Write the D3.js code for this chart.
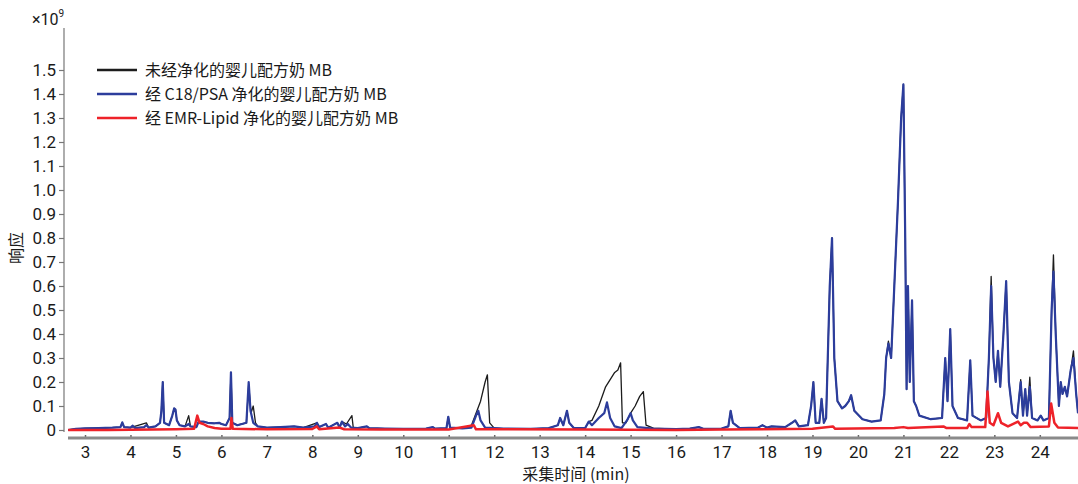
<!DOCTYPE html>
<html>
<head>
<meta charset="utf-8">
<script src="https://cdn.jsdelivr.net/npm/d3@7"></script>
<style>
  body { margin: 0; background: #fff; }
  svg text { font-family: "Liberation Sans Narrow", "Roboto", "Noto Sans CJK SC", sans-serif; fill: #1a1a1a; }
  .cjk { font-family: "Liberation Sans Narrow", "Noto Sans CJK SC", sans-serif; }
</style>
</head>
<body>
<svg id="chart" width="1078" height="484"></svg>
<script>
// chromatogram traces, [time (min), response (x10^9)]
const rawSeries = [
  [2.63,0.0],[2.8,0.005],[3.0,0.007],[3.3,0.008],[3.6,0.01],[3.78,0.012],[3.82,0.03],[3.86,0.012],
  [4.0,0.01],[4.35,0.03],[4.4,0.01],[4.55,0.015],[4.65,0.03],[4.68,0.08],[4.71,0.2],[4.74,0.03],
  [4.85,0.02],[4.92,0.06],[4.96,0.09],[4.99,0.085],[5.02,0.04],[5.08,0.02],[5.2,0.015],[5.28,0.06],
  [5.32,0.015],[5.45,0.012],[5.5,0.035],[5.6,0.035],[5.7,0.03],[5.85,0.028],[5.95,0.03],[6.0,0.025],
  [6.1,0.02],[6.18,0.05],[6.21,0.24],[6.24,0.03],[6.35,0.02],[6.45,0.025],[6.55,0.03],[6.6,0.19],
  [6.65,0.07],[6.7,0.1],[6.75,0.03],[6.8,0.015],[7.0,0.01],[7.3,0.012],[7.6,0.015],[7.8,0.01],
  [8.1,0.03],[8.15,0.012],[8.3,0.025],[8.35,0.01],[8.55,0.03],[8.6,0.01],[8.65,0.035],[8.75,0.025],
  [8.87,0.06],[8.9,0.01],[9.0,0.008],[9.2,0.015],[9.25,0.008],[9.6,0.006],[10.0,0.005],[10.5,0.006],
  [10.65,0.012],[10.7,0.006],[10.95,0.008],[10.99,0.055],[11.03,0.01],[11.3,0.007],[11.5,0.02],
  [11.6,0.07],[11.7,0.12],[11.8,0.2],[11.85,0.23],[11.9,0.03],[12.0,0.008],[12.2,0.006],[12.8,0.005],
  [13.2,0.008],[13.4,0.02],[13.45,0.05],[13.52,0.02],[13.6,0.08],[13.65,0.03],[13.75,0.008],
  [14.0,0.008],[14.08,0.035],[14.15,0.04],[14.3,0.1],[14.45,0.18],[14.55,0.21],[14.65,0.24],
  [14.72,0.25],[14.78,0.28],[14.82,0.03],[14.9,0.03],[15.0,0.07],[15.1,0.1],[15.2,0.14],[15.28,0.16],
  [15.34,0.02],[15.5,0.008],[16.0,0.004],[16.3,0.006],[16.5,0.012],[16.6,0.005],[17.0,0.006],
  [17.15,0.015],[17.2,0.08],[17.25,0.03],[17.4,0.008],[17.8,0.01],[17.9,0.02],[18.0,0.01],[18.1,0.015],
  [18.4,0.012],[18.55,0.03],[18.62,0.04],[18.7,0.015],[18.9,0.02],[18.97,0.1],[19.02,0.2],[19.07,0.03],
  [19.15,0.03],[19.2,0.13],[19.25,0.03],[19.3,0.05],[19.38,0.6],[19.43,0.8],[19.48,0.3],[19.55,0.12],
  [19.65,0.09],[19.72,0.1],[19.8,0.12],[19.85,0.145],[19.92,0.08],[20.1,0.045],[20.3,0.035],[20.5,0.04],
  [20.58,0.15],[20.62,0.3],[20.67,0.37],[20.73,0.3],[20.8,0.6],[20.88,0.95],[20.95,1.3],[21.0,1.44],
  [21.04,0.8],[21.07,0.17],[21.1,0.6],[21.14,0.2],[21.19,0.54],[21.23,0.12],[21.28,0.1],[21.35,0.06],
  [21.6,0.045],[21.85,0.05],[21.92,0.3],[21.97,0.12],[22.03,0.42],[22.08,0.1],[22.2,0.05],[22.4,0.04],
  [22.47,0.29],[22.52,0.06],[22.7,0.04],[22.82,0.05],[22.88,0.3],[22.93,0.64],[22.98,0.3],[23.03,0.2],
  [23.08,0.33],[23.13,0.18],[23.2,0.4],[23.26,0.62],[23.32,0.2],[23.4,0.07],[23.5,0.05],[23.58,0.21],
  [23.63,0.06],[23.68,0.17],[23.72,0.06],[23.78,0.22],[23.83,0.05],[23.95,0.04],[24.02,0.06],
  [24.08,0.04],[24.2,0.05],[24.26,0.5],[24.3,0.73],[24.35,0.4],[24.42,0.1],[24.46,0.2],[24.5,0.15],
  [24.55,0.18],[24.6,0.14],[24.68,0.25],[24.74,0.33],[24.8,0.15],[24.84,0.07]
];

const c18Series = [
  [2.63,0.0],[2.8,0.005],[3.0,0.007],[3.3,0.008],[3.6,0.01],[3.78,0.012],[3.82,0.032],[3.86,0.012],
  [4.0,0.01],[4.05,0.018],[4.1,0.008],[4.3,0.012],[4.35,0.02],[4.4,0.01],[4.55,0.015],[4.65,0.03],
  [4.68,0.08],[4.71,0.2],[4.74,0.03],[4.85,0.02],[4.92,0.06],[4.96,0.09],[4.99,0.085],[5.02,0.04],
  [5.08,0.02],[5.2,0.015],[5.28,0.025],[5.32,0.015],[5.45,0.012],[5.5,0.035],[5.6,0.035],[5.7,0.03],
  [5.85,0.028],[5.95,0.03],[6.0,0.025],[6.1,0.02],[6.18,0.05],[6.21,0.24],[6.24,0.03],[6.35,0.02],
  [6.45,0.025],[6.55,0.03],[6.6,0.2],[6.64,0.08],[6.7,0.03],[6.8,0.015],[7.0,0.01],[7.3,0.012],
  [7.6,0.015],[7.8,0.01],[8.05,0.015],[8.1,0.03],[8.15,0.012],[8.3,0.025],[8.35,0.01],[8.55,0.03],
  [8.6,0.01],[8.65,0.035],[8.72,0.015],[8.78,0.025],[8.85,0.01],[9.0,0.008],[9.2,0.015],[9.25,0.008],
  [9.6,0.006],[10.0,0.005],[10.5,0.006],[10.65,0.012],[10.7,0.006],[10.95,0.008],[10.99,0.055],
  [11.03,0.01],[11.3,0.007],[11.5,0.01],[11.6,0.06],[11.65,0.08],[11.7,0.04],[11.8,0.01],[12.2,0.006],
  [12.8,0.005],[13.2,0.008],[13.4,0.02],[13.45,0.05],[13.52,0.02],[13.6,0.08],[13.65,0.03],
  [13.75,0.008],[14.0,0.008],[14.08,0.035],[14.15,0.02],[14.3,0.05],[14.42,0.07],[14.48,0.115],
  [14.55,0.05],[14.65,0.015],[14.8,0.008],[14.92,0.04],[15.0,0.07],[15.05,0.04],[15.15,0.012],
  [15.5,0.006],[16.0,0.004],[16.3,0.006],[16.5,0.012],[16.6,0.005],[17.0,0.006],[17.15,0.015],
  [17.2,0.08],[17.25,0.03],[17.4,0.008],[17.8,0.01],[17.9,0.02],[18.0,0.01],[18.1,0.015],[18.4,0.012],
  [18.55,0.03],[18.62,0.04],[18.7,0.015],[18.9,0.02],[18.97,0.1],[19.02,0.2],[19.07,0.03],[19.15,0.03],
  [19.2,0.13],[19.25,0.03],[19.3,0.05],[19.38,0.6],[19.43,0.8],[19.48,0.3],[19.55,0.12],[19.65,0.09],
  [19.72,0.1],[19.8,0.12],[19.85,0.145],[19.92,0.08],[20.1,0.045],[20.3,0.035],[20.5,0.04],
  [20.58,0.15],[20.62,0.3],[20.67,0.36],[20.73,0.3],[20.8,0.6],[20.88,0.95],[20.95,1.3],[21.0,1.44],
  [21.04,0.8],[21.07,0.17],[21.1,0.6],[21.14,0.2],[21.19,0.54],[21.23,0.12],[21.28,0.1],[21.35,0.06],
  [21.6,0.045],[21.85,0.05],[21.92,0.3],[21.97,0.12],[22.03,0.42],[22.08,0.1],[22.2,0.05],[22.4,0.04],
  [22.47,0.29],[22.52,0.06],[22.7,0.04],[22.82,0.05],[22.88,0.3],[22.93,0.6],[22.98,0.3],[23.03,0.2],
  [23.08,0.33],[23.13,0.18],[23.2,0.4],[23.26,0.62],[23.32,0.2],[23.4,0.07],[23.5,0.05],[23.58,0.2],
  [23.63,0.06],[23.68,0.17],[23.72,0.06],[23.78,0.18],[23.83,0.05],[23.95,0.04],[24.02,0.06],
  [24.08,0.04],[24.2,0.05],[24.26,0.5],[24.3,0.66],[24.35,0.4],[24.42,0.1],[24.46,0.2],[24.5,0.15],
  [24.55,0.18],[24.6,0.14],[24.68,0.25],[24.74,0.3],[24.8,0.15],[24.84,0.07]
];

const emrSeries = [
  [2.63,0.0],[3.5,0.0],[4.5,0.002],[5.0,0.003],[5.4,0.005],[5.47,0.06],[5.52,0.03],[5.6,0.025],
  [5.7,0.015],[5.85,0.008],[6.0,0.005],[6.2,0.005],[6.22,0.05],[6.25,0.005],[7.0,0.003],[8.0,0.004],
  [8.1,0.015],[8.15,0.003],[8.6,0.01],[8.7,0.003],[9.5,0.002],[11.0,0.002],[11.55,0.02],[11.6,0.003],
  [14.0,0.002],[16.0,0.0],[17.0,0.002],[19.0,0.005],[19.45,0.015],[19.5,0.005],[20.8,0.008],
  [21.0,0.012],[21.1,0.008],[21.88,0.015],[21.95,0.008],[22.4,0.008],[22.45,0.025],[22.5,0.012],
  [22.8,0.012],[22.85,0.16],[22.9,0.03],[22.98,0.02],[23.08,0.07],[23.15,0.03],[23.3,0.015],
  [23.52,0.035],[23.58,0.02],[23.65,0.03],[23.72,0.03],[23.8,0.012],[24.2,0.015],[24.25,0.11],
  [24.32,0.03],[24.4,0.01],[24.84,0.008]
];

const legendLabels = [
  "未经净化的婴儿配方奶 MB",
  "经 C18/PSA 净化的婴儿配方奶 MB",
  "经 EMR-Lipid 净化的婴儿配方奶 MB"
];
const seriesColors = ["#1c1c1c", "#2c3d9c", "#ee2229"];

const xTicks = d3.range(3, 25);
const yTicks = d3.range(0, 16).map(i => i / 10);

const svg = d3.select("#chart");

const x = d3.scaleLinear().domain([2.626, 24.84]).range([68, 1078]);
const y = d3.scaleLinear().domain([0, 1.5]).range([430, 70]);

// y axis
const yAxis = svg.append("g")
  .attr("transform", "translate(64,0)")
  .call(d3.axisLeft(y).tickValues(yTicks).tickSize(5).tickPadding(3)
    .tickFormat(d => d === 0 ? "0" : d3.format(".1f")(d)));
yAxis.select(".domain").remove();
yAxis.selectAll(".tick line").attr("stroke", "#777").attr("stroke-width", 1.2);
yAxis.selectAll("text").attr("font-size", 17).attr("fill", "#1a1a1a");
svg.append("line")
  .attr("x1", 64).attr("x2", 64).attr("y1", 28).attr("y2", 432)
  .attr("stroke", "#777").attr("stroke-width", 1.2);

// x axis
const xAxis = svg.append("g")
  .attr("transform", "translate(0,438)")
  .call(d3.axisBottom(x).tickValues(xTicks).tickSize(-3).tickPadding(8).tickFormat(d3.format("d")));
xAxis.select(".domain").remove();
xAxis.selectAll(".tick line").attr("stroke", "#666").attr("stroke-width", 1.5);
xAxis.selectAll("text").attr("font-size", 17).attr("fill", "#1a1a1a");
svg.append("line")
  .attr("x1", 68).attr("x2", 1078).attr("y1", 438).attr("y2", 438)
  .attr("stroke", "#8a8a8a").attr("stroke-width", 3);

// traces
const line = d3.line().x(d => x(d[0])).y(d => y(d[1]));
const traces = [
  { data: rawSeries, color: seriesColors[0], width: 1.3 },
  { data: c18Series, color: seriesColors[1], width: 2.2 },
  { data: emrSeries, color: seriesColors[2], width: 2.5 }
];
svg.append("g").selectAll("path")
  .data(traces)
  .join("path")
  .attr("d", d => line(d.data))
  .attr("fill", "none")
  .attr("stroke", d => d.color)
  .attr("stroke-width", d => d.width)
  .attr("stroke-linejoin", "round");

// legend
const legend = svg.append("g").selectAll("g")
  .data(legendLabels)
  .join("g")
  .attr("transform", (d, i) => `translate(97,${70 + i * 24})`);
legend.append("line")
  .attr("x1", 0).attr("x2", 40)
  .attr("stroke", (d, i) => seriesColors[i])
  .attr("stroke-width", 2.5);
legend.append("text")
  .attr("class", "cjk")
  .attr("x", 48).attr("y", 6)
  .attr("font-size", 16)
  .text(d => d);

// unit label
const unit = svg.append("text")
  .attr("x", 32).attr("y", 25)
  .attr("font-size", 16);
unit.append("tspan").text("×10");
unit.append("tspan").attr("font-size", 10).attr("dy", -8).text("9");

// axis titles
svg.append("text")
  .attr("class", "cjk")
  .attr("transform", "translate(22,248) rotate(-90)")
  .attr("text-anchor", "middle")
  .attr("font-size", 16)
  .text("响应");
svg.append("text")
  .attr("class", "cjk")
  .attr("x", 576).attr("y", 480)
  .attr("text-anchor", "middle")
  .attr("font-size", 16)
  .text("采集时间 (min)");
</script>
</body>
</html>
